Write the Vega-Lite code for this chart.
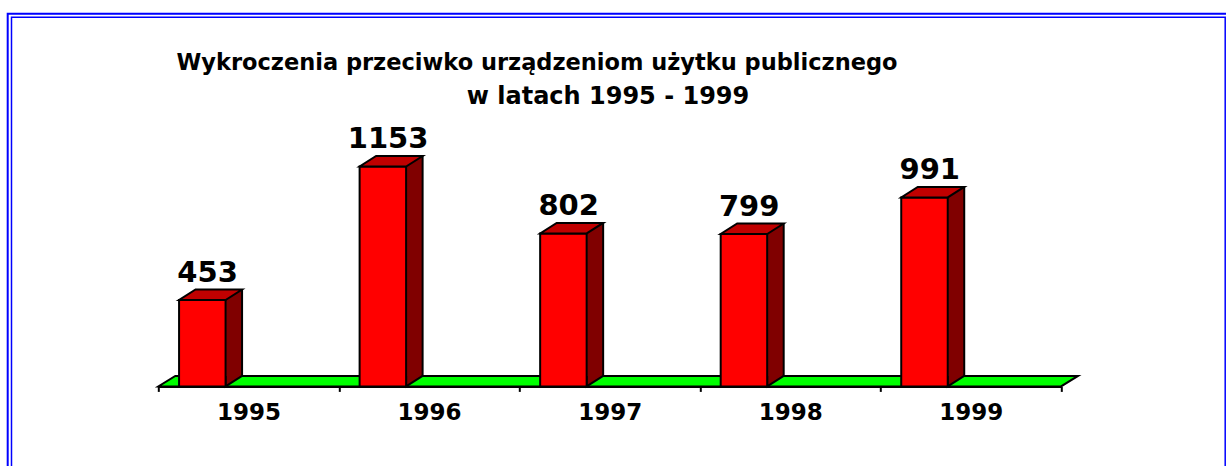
{
  "$schema": "https://vega.github.io/schema/vega-lite/v6.json",
  "width": 902.7,
  "height": 228.84,
  "autosize": {"type": "none"},
  "padding": {"left": 158.3, "top": 157.56, "right": 165, "bottom": 79.6},
  "background": "white",
  "config": {"view": {"stroke": null}, "font": "DejaVu Sans"},
  "data": {"values": [
    {"year": "1995", "value": 453},
    {"year": "1996", "value": 1153},
    {"year": "1997", "value": 802},
    {"year": "1998", "value": 799},
    {"year": "1999", "value": 991}
  ]},
  "encoding": {
    "x": {
      "field": "year", "type": "nominal",
      "scale": {"paddingInner": 0, "paddingOuter": 0},
      "axis": {
        "title": "Wykroczenia przeciwko urządzeniom użytku publicznego",
        "titleX": 378.2, "titleY": -317.1, "titleAlign": "center", "titleBaseline": "alphabetic", "titleAngle": 0,
        "titleFont": "DejaVu Sans", "titleFontSize": 22.5, "titleFontWeight": "bold", "titleColor": "black",
        "labelAngle": 0, "labelFont": "DejaVu Sans", "labelFontSize": 23, "labelFontWeight": "bold", "labelColor": "black",
        "labelPadding": 10, "tickBand": "extent", "tickSize": 5, "tickWidth": 2, "tickColor": "black",
        "domainColor": "black", "domainWidth": 2, "grid": false
      }
    },
    "y": {
      "field": "value", "type": "quantitative",
      "scale": {"domain": [0, 1200], "nice": false},
      "axis": {
        "title": "w latach 1995 - 1999",
        "titleX": 449.2, "titleY": -54, "titleAngle": 0, "titleAlign": "center", "titleBaseline": "alphabetic",
        "titleFont": "DejaVu Sans", "titleFontSize": 24, "titleFontWeight": "bold", "titleColor": "black",
        "domain": false, "ticks": false, "labels": false, "grid": false
      }
    }
  },
  "layer": [
    {
      "data": {"values": [{}]},
      "mark": {"type": "rect", "fill": "transparent", "stroke": "#0000FF", "strokeWidth": 2,
               "xOffset": -150.6, "x2Offset": 167.7, "yOffset": -143.76, "y2Offset": 100},
      "encoding": {"x": {"value": 0}, "x2": {"value": "width"}, "y": {"value": 0}, "y2": {"value": "height"}}
    },
    {
      "data": {"values": [{}]},
      "mark": {"type": "rect", "fill": "transparent", "stroke": "#0000FF", "strokeWidth": 1.5,
               "xOffset": -146.8, "x2Offset": 164.2, "yOffset": -140.2, "y2Offset": 100},
      "encoding": {"x": {"value": 0}, "x2": {"value": "width"}, "y": {"value": 0}, "y2": {"value": "height"}}
    },
    {
      "transform": [{"filter": "datum.year == '1997'"}],
      "mark": {"type": "point", "shape": "M-0.9027,0L0.9027,0L0.9367,-0.021L-0.8687,-0.021Z", "size": 1000000,
               "filled": true, "fill": "#00FF00", "stroke": "black", "strokeWidth": 2, "opacity": 1},
      "encoding": {"y": {"datum": 0}}
    },
    {
      "mark": {"type": "bar", "width": 16.5, "xOffset": -14.75, "yOffset": -10.5, "y2Offset": -10.5, "fill": "#800000", "strokeWidth": 0},
      "encoding": {"y2": {"datum": 0}}
    },
    {
      "mark": {"type": "rule", "xOffset": -6.5, "yOffset": -10.5, "y2Offset": -10.5, "stroke": "black", "strokeWidth": 2},
      "encoding": {"y2": {"datum": 0}}
    },
    {
      "mark": {"type": "point", "shape": "M-0.46,-0.21L-0.46,0L-0.13,-0.21", "size": 10000,
               "filled": true, "fill": "#800000", "stroke": "black", "strokeWidth": 2, "opacity": 1},
      "encoding": {"y": {"datum": 0}}
    },
    {
      "mark": {"type": "bar", "width": 46.5, "xOffset": -46.25, "fill": "#FF0000", "stroke": "black", "strokeWidth": 2},
      "encoding": {}
    },
    {
      "mark": {"type": "point", "shape": "M-1.39,0L-0.46,0L-0.13,-0.21L-1.06,-0.21Z", "size": 10000,
               "filled": true, "fill": "#C00000", "stroke": "black", "strokeWidth": 2, "opacity": 1},
      "encoding": {}
    },
    {
      "mark": {"type": "text", "font": "DejaVu Sans", "fontSize": 29, "fontWeight": "bold", "color": "black",
               "xOffset": -41, "yOffset": -18.5, "baseline": "alphabetic", "align": "center"},
      "encoding": {"text": {"field": "value", "type": "quantitative", "format": "d"}}
    }
  ]
}
